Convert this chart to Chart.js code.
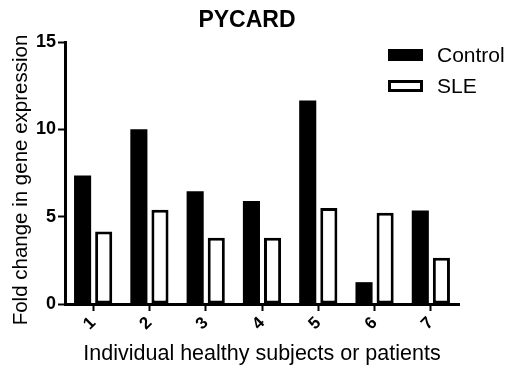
<!DOCTYPE html>
<html>
<head>
<meta charset="utf-8">
<script src="https://cdn.jsdelivr.net/npm/chart.js@4/dist/chart.umd.min.js"></script>
<style>
html,body{margin:0;padding:0;background:#fff;}
#wrap{width:508px;height:368px;}
</style>
</head>
<body>
<div id="wrap"><canvas id="c" width="508" height="368"></canvas></div>
<script>
const titleText = "PYCARD";
const categories = ["1", "2", "3", "4", "5", "6", "7"];
const controlValues = [7.35, 10.0, 6.45, 5.9, 11.65, 1.25, 5.35];
const sleValues = [4.15, 5.4, 3.8, 3.8, 5.5, 5.22, 2.65];
const seriesNames = ["Control", "SLE"];
const yTicks = [0, 5, 10, 15];
const yTitle = "Fold change in gene expression";
const xTitle = "Individual healthy subjects or patients";

const FONT = "'Liberation Sans', Arial, Helvetica, sans-serif";

const customDecor = {
  id: 'customDecor',
  afterDraw(chart) {
    const ctx = chart.ctx;
    ctx.save();
    // title
    ctx.fillStyle = '#000';
    ctx.font = "bold 23px " + FONT;
    ctx.textAlign = 'center';
    ctx.textBaseline = 'middle';
    ctx.fillText(titleText, 247, 21);
    // y axis title
    ctx.save();
    ctx.translate(21, 180);
    ctx.rotate(-Math.PI / 2);
    ctx.font = "20.5px " + FONT;
    ctx.textAlign = 'center';
    ctx.textBaseline = 'middle';
    ctx.fillText(yTitle, 0, 0);
    ctx.restore();
    // legend
    const items = chart.data.datasets;
    const boxX = 388, boxW = 35, boxH = 12;
    const rows = [49, 80];
    items.forEach((ds, i) => {
      const y = rows[i];
      if (ds.backgroundColor === '#000000') {
        ctx.fillStyle = '#000';
        ctx.fillRect(boxX, y, boxW, boxH);
      } else {
        ctx.fillStyle = '#fff';
        ctx.fillRect(boxX, y, boxW, boxH);
        ctx.strokeStyle = '#000';
        ctx.lineWidth = 3;
        ctx.strokeRect(boxX + 1.5, y + 1.5, boxW - 3, boxH - 3);
      }
      ctx.fillStyle = '#000';
      ctx.font = "21px " + FONT;
      ctx.textAlign = 'left';
      ctx.textBaseline = 'middle';
      ctx.fillText(ds.label, 437, y + boxH / 2 + 1);
    });
    ctx.restore();
  }
};

new Chart(document.getElementById('c'), {
  type: 'bar',
  data: {
    labels: categories,
    datasets: [
      {
        label: seriesNames[0],
        data: controlValues,
        backgroundColor: '#000000',
        borderColor: '#000000',
        borderWidth: 0,
        barPercentage: 0.81,
        categoryPercentage: 0.75
      },
      {
        label: seriesNames[1],
        data: sleValues,
        backgroundColor: '#ffffff',
        borderColor: '#000000',
        borderWidth: 3,
        borderSkipped: false,
        barPercentage: 0.81,
        categoryPercentage: 0.75
      }
    ]
  },
  options: {
    responsive: false,
    devicePixelRatio: 1,
    animation: false,
    layout: { padding: { left: 0, top: 42, right: 49, bottom: 0 } },
    plugins: {
      legend: { display: false },
      title: { display: false },
      tooltip: { enabled: false }
    },
    scales: {
      x: {
        afterFit(scale) { scale.height = 64; },
        grid: {
          display: true,
          offset: false,
          drawOnChartArea: false,
          drawTicks: true,
          tickLength: 7,
          tickWidth: 2,
          tickColor: '#000'
        },
        border: { display: true, color: '#000', width: 3 },
        ticks: {
          color: '#000',
          font: { family: FONT, size: 17, weight: 'bold' },
          minRotation: 45,
          maxRotation: 45,
          align: 'center',
          padding: 2
        },
        title: {
          display: true,
          text: xTitle,
          color: '#000',
          font: { family: FONT, size: 21.5 },
          padding: { top: 0, bottom: 1 }
        }
      },
      y: {
        min: 0,
        max: 15,
        afterFit(scale) { scale.width = 65; },
        afterBuildTicks(scale) { scale.ticks = yTicks.map(v => ({ value: v })); },
        grid: {
          display: true,
          drawOnChartArea: false,
          drawTicks: true,
          tickLength: 7,
          tickWidth: 2,
          tickColor: '#000'
        },
        border: { display: true, color: '#000', width: 3 },
        ticks: {
          color: '#000',
          font: { family: FONT, size: 18, weight: 'bold' },
          padding: 2
        },
        title: { display: false }
      }
    }
  },
  plugins: [customDecor]
});
</script>
</body>
</html>
